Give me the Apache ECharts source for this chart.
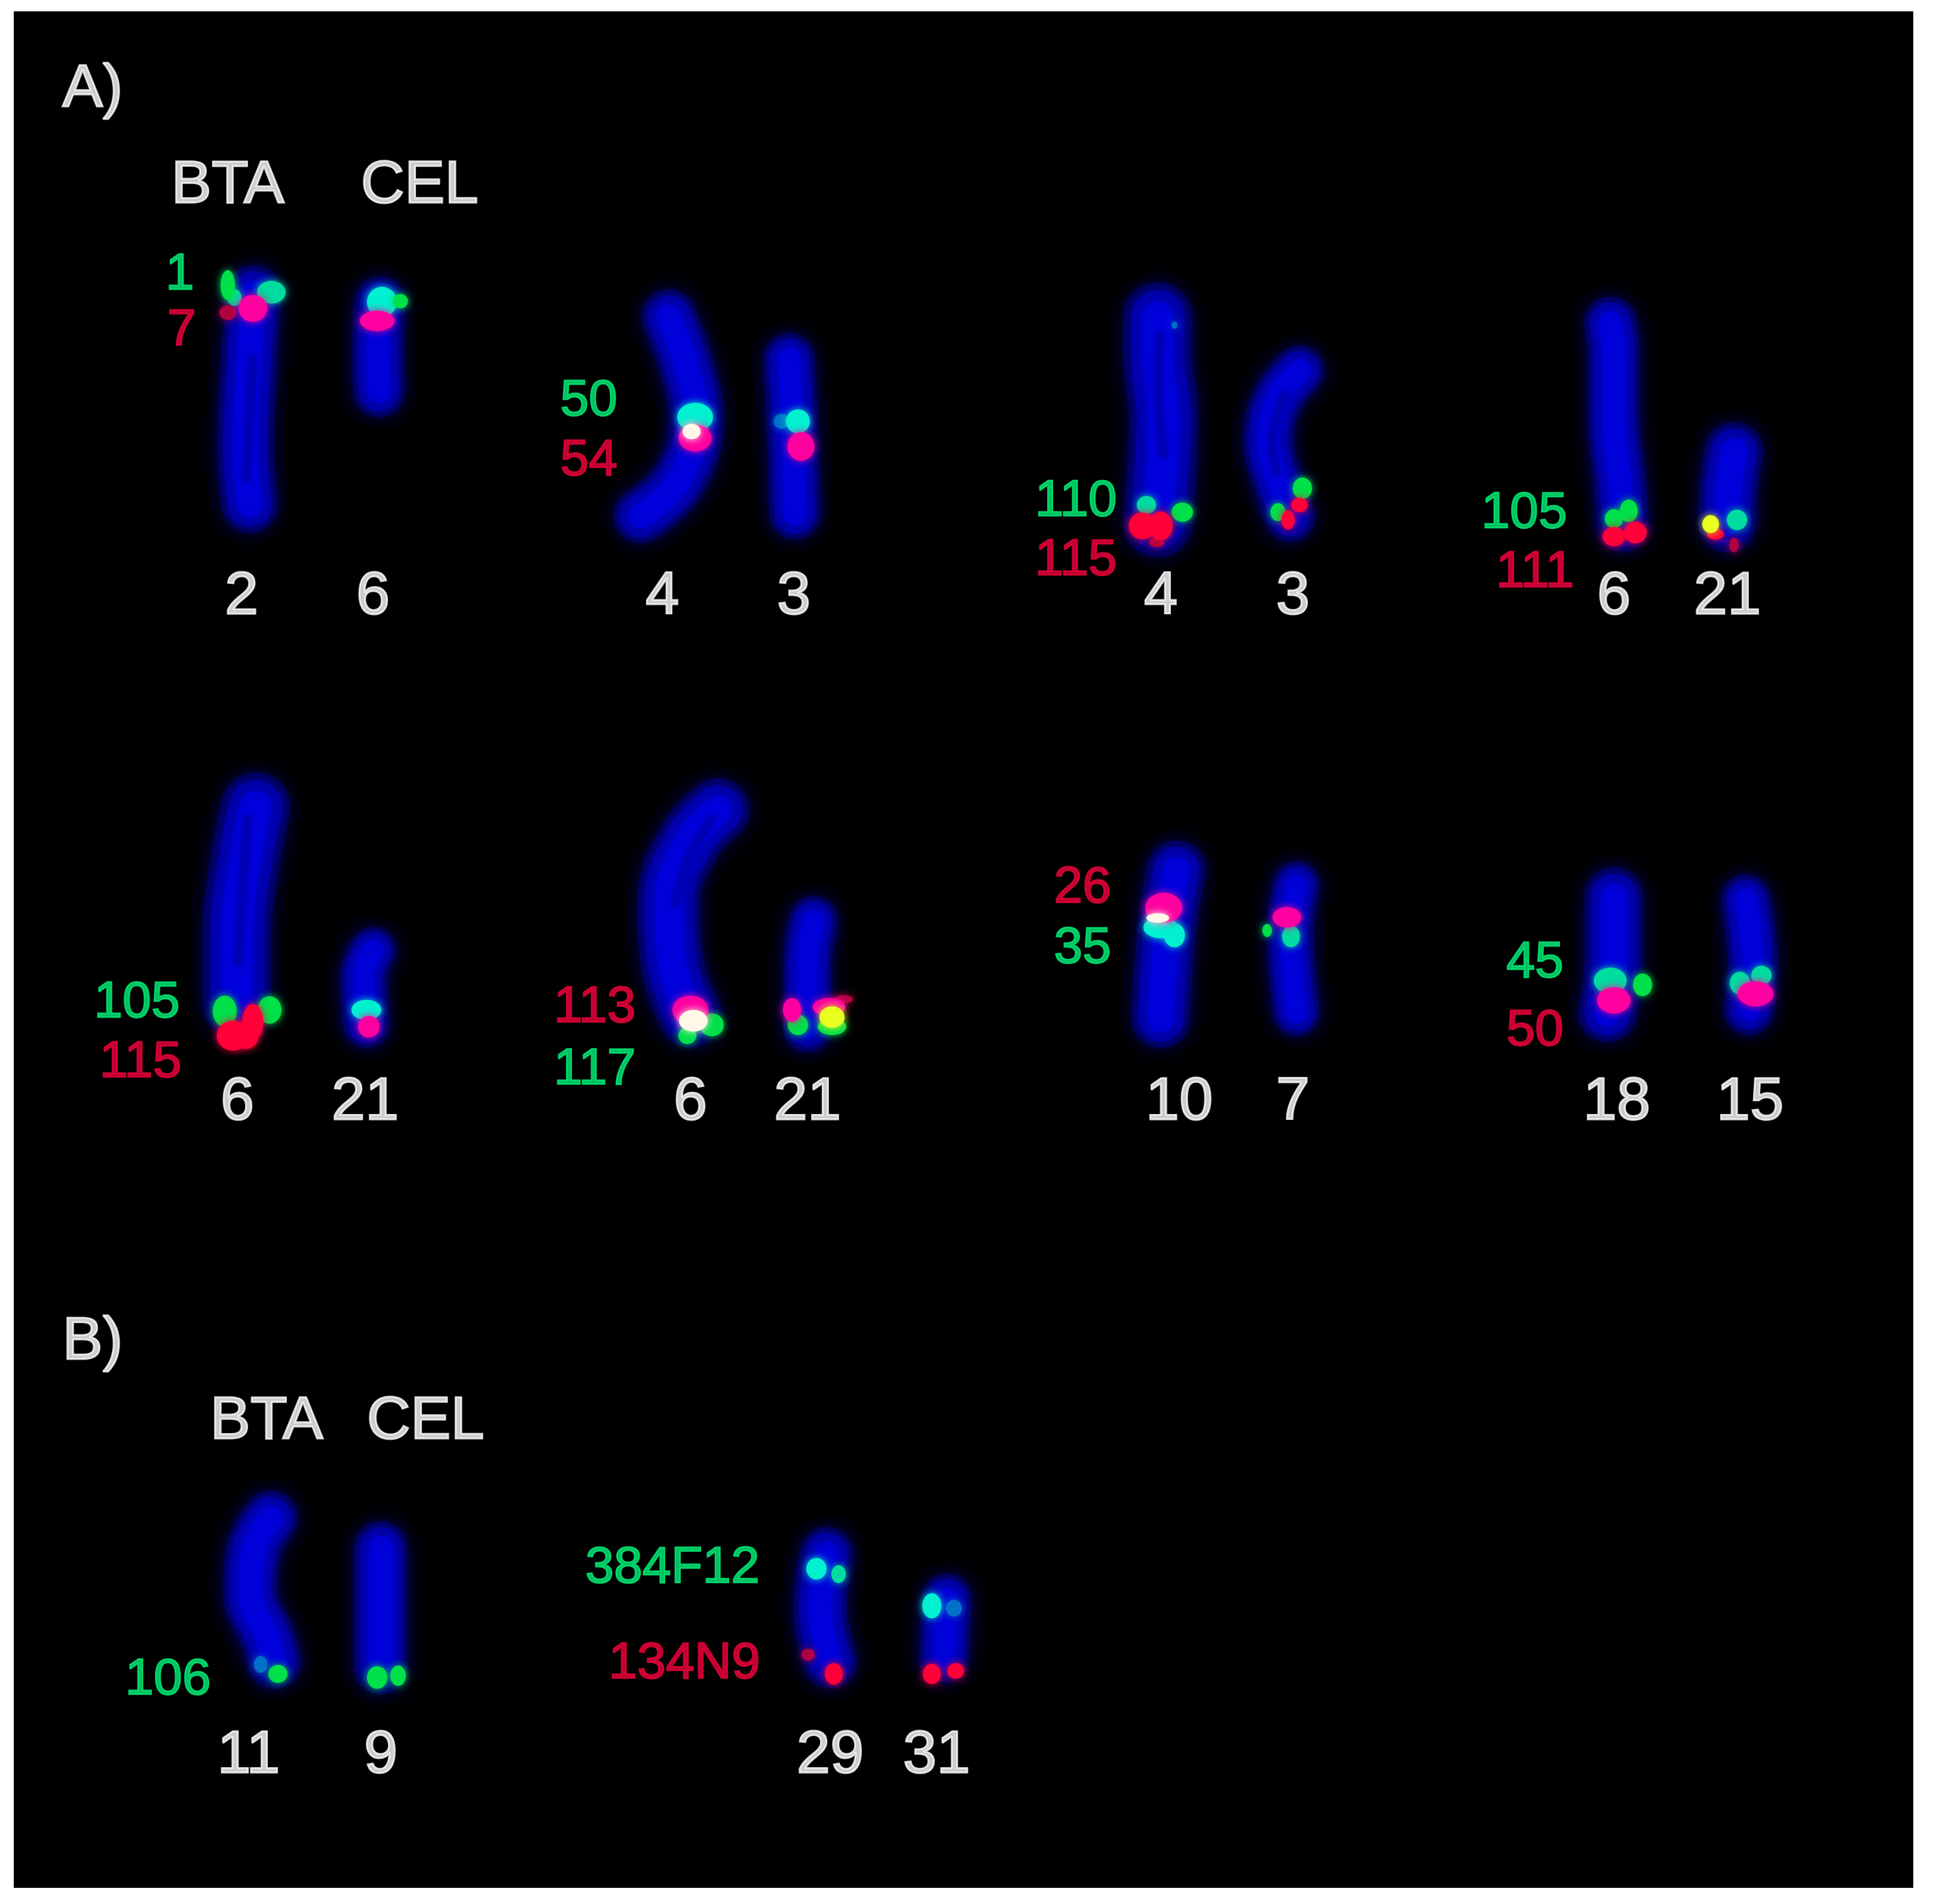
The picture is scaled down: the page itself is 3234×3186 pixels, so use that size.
<!DOCTYPE html>
<html><head><meta charset="utf-8">
<style>html,body{margin:0;padding:0;background:#fff}#c{width:3234px;height:3186px}</style>
<script src="https://cdn.jsdelivr.net/npm/echarts@6/dist/echarts.min.js"></script>
</head><body><div id="c"></div>
<script>
// Chromosome centre lines [x, y]
const bta2a=[[424,490],[416,620],[410,750],[418,845]];
const cel6a=[[636,505],[632,580],[634,655]];
const bta4a=[[1119,530],[1150,617],[1165,701],[1134,807],[1072,863]];
const cel3a=[[1320,600],[1325,701],[1330,860]];
const bta4b=[[1937,530],[1937,596],[1947,701],[1942,807],[1937,875]];
const cel3b=[[2174,620],[2138,666],[2122,737],[2143,821],[2158,865]];
const bta6a=[[2694,540],[2700,596],[2700,701],[2710,807],[2715,880]];
const cel21a=[[2901,755],[2893,807],[2890,875]];
const bta6b=[[428,1350],[412,1430],[397,1557],[397,1680]];
const cel21b=[[624,1590],[608,1633],[613,1715]];
const bta6c=[[1201,1355],[1155,1404],[1119,1506],[1124,1608],[1155,1700]];
const cel21c=[[1361,1540],[1351,1608],[1351,1720]];
const bta10=[[1968,1455],[1952,1557],[1942,1705]];
const cel7=[[2169,1480],[2158,1557],[2169,1695]];
const bta18=[[2700,1500],[2700,1608],[2689,1695]];
const cel15=[[2921,1505],[2932,1608],[2926,1690]];
const bta11=[[453,2540],[425,2590],[419,2665],[448,2741],[459,2780]];
const cel9=[[637,2590],[637,2672],[637,2790]];
const bta29=[[1383,2600],[1372,2691],[1389,2780]];
const cel31=[[1584,2675],[1579,2775]];
const chromosomes=[bta2a,cel6a,bta4a,cel3a,bta4b,cel3b,bta6a,cel21a,bta6b,cel21b,bta6c,cel21c,bta10,cel7,bta18,cel15,bta11,cel9,bta29,cel31];
const chromosomeWidths=[94,86,92,86,116,84,88,98,116,78,106,82,98,78,98,84,92,90,90,84];

// Faint gaps between sister chromatids [x, y]
const seam2a=[[423,600],[418,680],[412,800]];
const seam4b=[[1940,560],[1938,640],[1946,760]];
const seam3b=[[2150,660],[2128,740],[2135,790]];
const seam6b=[[414,1370],[406,1480],[398,1610]];
const seam6c=[[1190,1370],[1150,1440],[1130,1510]];
const seams=[seam2a,seam4b,seam3b,seam6b,seam6c];

// Hybridisation spots by merged colour: [x, y, long side, short side]
const dimBlueSpots=[[1307,705,25,25],[1965,544,10,12],[1596,2691,26,28],[436,2785,22,28]];
const tealSpots=[[2694,1641,55,44],[2160,1567,30,36],[1918,845,32,30],[2911,1645,34,38],[2947,1632,34,32],[1403,2634,24,30],[2906,870,34,34],[392,498,24,28],[454,489,48,38]];
const cyanSpots=[[639,505,50,50],[1163,698,60,48],[1335,705,40,40],[613,1690,50,34],[1942,1552,58,36],[1965,1565,35,40],[1366,2625,34,36],[1559,2687,32,42]];
const greenSpots=[[381,477,24,50],[670,504,25,24],[1978,857,36,32],[2179,817,32,36],[2138,857,25,30],[2725,855,30,38],[2700,868,30,32],[376,1692,40,52],[451,1690,40,46],[1191,1715,40,38],[1150,1733,30,28],[1335,1715,34,34],[1392,1718,48,28],[2120,1557,16,22],[2748,1648,32,38],[465,2801,32,30],[631,2807,34,38],[666,2804,26,34]];
const redSpots=[[1911,880,45,45],[1942,880,40,48],[2155,870,22,32],[2174,845,28,24],[2700,898,38,32],[2736,891,38,36],[2870,894,28,18],[423,1710,35,60],[390,1733,55,50],[412,1735,40,40],[1395,2801,30,36],[1559,2801,30,34],[1599,2796,28,26]];
const darkRedSpots=[[1935,908,25,15],[2901,912,16,24],[1412,1672,30,14],[1352,2769,22,20],[381,523,28,24]];
const magentaSpots=[[423,516,48,45],[631,537,58,34],[1163,733,55,45],[1340,747,45,48],[617,1718,36,36],[1155,1690,60,48],[1325,1690,30,40],[1387,1685,55,30],[1947,1519,62,50],[2153,1535,48,34],[2700,1674,56,44],[2937,1663,60,42]];
const yellowSpots=[[2862,877,28,30],[1392,1702,42,36]];
const whiteSpots=[[1157,722,30,26],[1160,1708,48,36],[1937,1536,38,16]];

// Text labels: [x, y, text]
const whiteLabels=[[155,150,'A)'],[381,311,'BTA'],[702,311,'CEL'],[404,999,'2'],[624,999,'6'],[1108,999,'4'],[1328,999,'3'],[1942,999,'4'],[2163,999,'3'],[2700,999,'6'],[2890,999,'21'],[397,1845,'6'],[611,1845,'21'],[1155,1845,'6'],[1351,1845,'21'],[1973,1845,'10'],[2163,1845,'7'],[2705,1845,'18'],[2928,1845,'15'],[155,2246,'B)'],[446,2379,'BTA'],[712,2379,'CEL'],[416,2938,'11'],[637,2938,'9'],[1389,2938,'29'],[1567,2938,'31']];
const greenLabels=[[301,460,'1'],[985,671,'50'],[1800,839,'110'],[2550,859,'105'],[229,1678,'105'],[995,1790,'117'],[1811,1587,'35'],[2568,1611,'45'],[281,2811,'106'],[1125,2624,'384F12']];
const redLabels=[[304,553,'7'],[985,771,'54'],[1800,938,'115'],[2568,958,'111'],[235,1778,'115'],[995,1686,'113'],[1811,1486,'26'],[2568,1725,'50'],[1145,2784,'134N9']];

const series=[];
function chromLayer(p,width,color,opacity,blur,z){
  return {type:'line',data:p,smooth:0.4,symbol:'none',silent:true,z:z,clip:false,
    lineStyle:{color:color,opacity:opacity,width:width,cap:'round',join:'round',shadowBlur:blur,shadowColor:color}};
}
chromosomes.forEach((p,i)=>{
  const w=chromosomeWidths[i];
  series.push(chromLayer(p,w*1.0,'#000098',0.4,36,1));
  series.push(chromLayer(p,w*0.78,'#0000c0',0.55,32,1));
  series.push(chromLayer(p,w*0.45,'#0000e8',0.6,32,1));
});
seams.forEach(p=>series.push(chromLayer(p,16,'#000050',0.16,12,2)));
const spotLayers=[[dimBlueSpots,'#0070c8'],[tealSpots,'#00dca0'],[cyanSpots,'#00f0d0'],[greenSpots,'#00e048'],
  [darkRedSpots,'#b00040'],[redSpots,'#ff0038'],[magentaSpots,'#ff00a0'],[yellowSpots,'#e8ff20'],[whiteSpots,'#fff8e8']];
spotLayers.forEach((l,i)=>{
  series.push({type:'scatter',data:l[0],z:3+i,silent:true,clip:false,
    symbolSize:v=>[v[2],v[3]],
    itemStyle:{color:l[1],opacity:1,shadowBlur:14,shadowColor:l[1]}});
});
function labelSeries(data,color,size,stroke){
  return {type:'scatter',data:data,z:20,silent:true,clip:false,symbolSize:1,itemStyle:{color:'rgba(0,0,0,0)'},
    label:{show:true,position:'inside',formatter:p=>p.value[2],color:color,textBorderColor:color,textBorderWidth:stroke,
      fontFamily:'"Liberation Sans",Arial,sans-serif',fontSize:size,align:'center',verticalAlign:'middle'}};
}
series.push(labelSeries(whiteLabels,'#ffffff',101,3));
series.push(labelSeries(greenLabels,'#00f078',86,2.5));
series.push(labelSeries(redLabels,'#f0003c',86,2.5));

const chart=echarts.init(document.getElementById('c'),null,{renderer:'canvas',devicePixelRatio:1});
chart.setOption({
  animation:false,backgroundColor:'#ffffff',
  grid:{show:true,left:23,top:19,width:3178,height:3140,backgroundColor:'#000000',borderWidth:0},
  xAxis:{type:'value',min:23,max:3201,show:false},
  yAxis:{type:'value',min:19,max:3159,inverse:true,show:false},
  tooltip:{show:false},legend:{show:false},
  series:series
});
</script></body></html>
